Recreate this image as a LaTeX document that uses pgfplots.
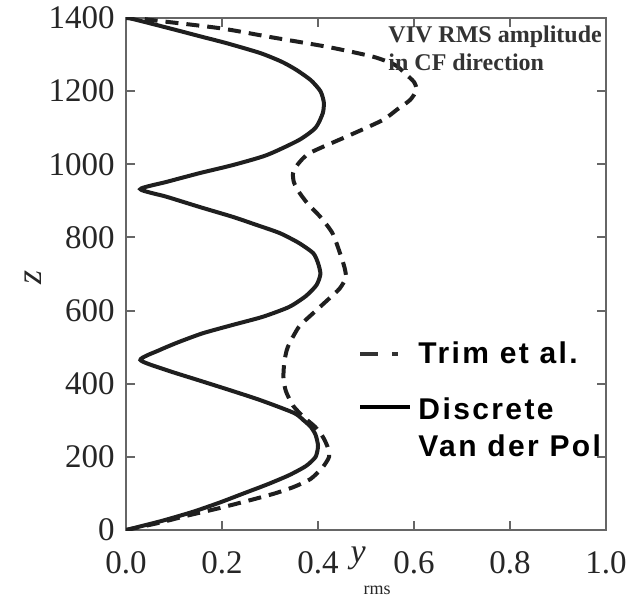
\documentclass[border=0pt]{standalone}
\usepackage{fontspec}
\setmainfont{Liberation Serif}
\newfontfamily\legfont[LetterSpace=8]{Liberation Sans}
\usepackage{pgfplots}
\pgfplotsset{compat=1.18}

% solid: discrete Van der Pol model
\pgfplotstableread{
z y
0 0
25 0.075
50 0.14
75 0.195
100 0.245
125 0.295
150 0.34
175 0.375
200 0.395
230 0.40
260 0.395
282 0.385
300 0.37
320 0.35
355 0.28
383 0.215
410 0.15
437 0.085
465 0.03
492 0.07
514 0.11
538 0.16
561 0.223
583 0.285
610 0.34
640 0.375
670 0.397
700 0.405
730 0.40
757 0.39
785 0.36
812 0.32
835 0.27
856 0.223
883 0.154
911 0.085
932 0.03
952 0.085
976 0.154
998 0.223
1025 0.293
1066 0.36
1100 0.395
1140 0.41
1170 0.412
1200 0.405
1230 0.385
1258 0.355
1280 0.325
1304 0.28
1331 0.21
1348 0.16
1372 0.09
1397 0.015
1400 0
}\vdp

% dashed: Trim et al.
\pgfplotstableread{
z y
0 0
20 0.07
40 0.13
60 0.195
82 0.26
100 0.31
118 0.35
140 0.385
172 0.41
200 0.423
227 0.42
255 0.41
282 0.394
309 0.37
340 0.348
380 0.333
418 0.328
460 0.33
500 0.337
555 0.36
593 0.39
629 0.42
660 0.445
690 0.458
719 0.455
760 0.445
812 0.43
856 0.405
890 0.38
921 0.362
950 0.35
976 0.348
1000 0.358
1031 0.383
1080 0.467
1121 0.535
1150 0.565
1176 0.592
1203 0.605
1225 0.60
1250 0.58
1272 0.56
1294 0.515
1321 0.42
1348 0.30
1372 0.196
1395 0.05
1400 0.03
}\trim

\begin{document}
\begin{tikzpicture}
\begin{axis}[
    scale only axis,
    width=240pt, height=256pt,
    xmin=0, xmax=1, ymin=0, ymax=1400,
    xtick={0,0.2,0.4,0.6,0.8,1.0},
    ytick={0,200,400,600,800,1000,1200,1400},
    xticklabel style={inner sep=1pt, yshift=-9.5pt, /pgf/number format/.cd, fixed, fixed zerofill, precision=1},
    yticklabel style={inner sep=1pt, xshift=-4.5pt, /pgf/number format/set thousands separator={}},
    /pgf/number format/assume math mode=true,
    tick label style={font=\fontsize{16.5}{18}\selectfont, text=black!85},
    axis line style={draw=black!60, line width=1pt},
    major tick style={draw=black!60, line width=1pt},
    xlabel={{\itshape y}\kern-1pt\raisebox{-16pt}{\fontsize{9}{9}\selectfont rms}},
    xlabel style={at={(axis description cs:0.467,0)}, anchor=base west, inner sep=0pt, yshift=-16pt, font=\fontsize{17}{17}\selectfont, text=black!85},
    ylabel={\itshape z},
    ylabel style={at={(axis description cs:-0.194,0.494)}, anchor=center, font=\fontsize{18}{18}\selectfont, text=black!85},
    legend style={draw=none, fill=none, at={(0.471,0.385)}, anchor=north west,
        font=\legfont\bfseries\fontsize{15}{18.5}\selectfont, row sep=12pt,
        cells={align=left}},
    legend cell align=left,
]
\addplot[black!88, line width=2pt, dash pattern=on 6.5pt off 4pt, smooth, tension=0.4,
    legend image code/.code={\draw[black!80, line width=2pt, dash pattern=on 9pt off 7pt on 3pt off 20pt] (0pt,0pt) -- (26pt,0pt);}]
    table[x=y, y=z] {\trim};
\addlegendentry{Trim et al.}
\addplot[black!88, line width=2pt, smooth, tension=0.4,
    legend image code/.code={\draw[black, line width=2pt] (0pt,11pt) -- (25pt,11pt);}]
    table[x=y, y=z] {\vdp};
\addlegendentry{Discrete\\Van der Pol}
\node[anchor=north west, align=left, inner sep=0pt, text=black!80,
    font=\bfseries\fontsize{12}{14}\selectfont] at (rel axis cs:0.546,0.986)
    {VIV RMS amplitude\\in CF direction};
\end{axis}
\pgfresetboundingbox
\path (current axis.south west) ++(-63pt,-34.5pt) coordinate (bl);
\path (current axis.north east) ++(11.5pt,9pt) coordinate (tr);
\useasboundingbox (bl) rectangle (tr);
\end{tikzpicture}
\end{document}
